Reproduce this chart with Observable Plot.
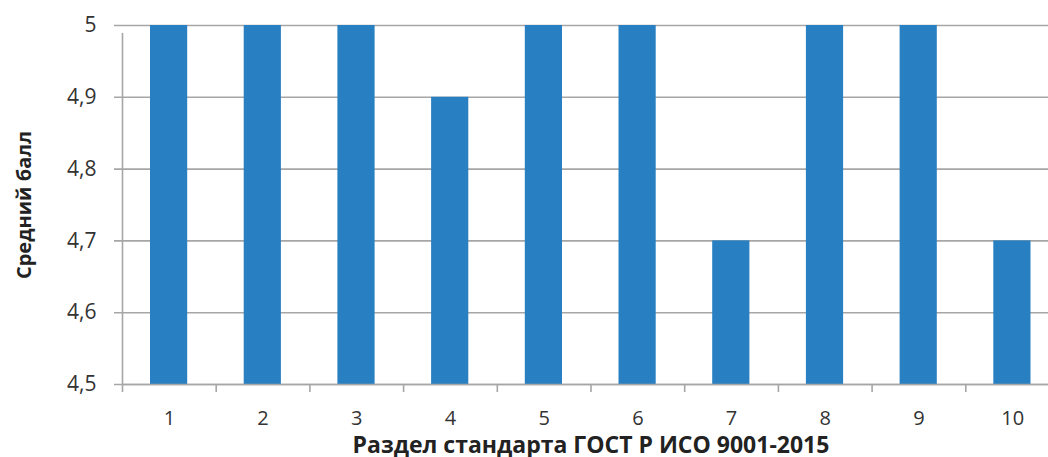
<!DOCTYPE html>
<html>
<head>
<meta charset="utf-8">
<script src="https://cdn.jsdelivr.net/npm/d3@7"></script>
<script src="https://cdn.jsdelivr.net/npm/@observablehq/plot@0.6"></script>
<style>
  html, body { margin: 0; padding: 0; background: #fff; }
  #chart svg { display: block; }
</style>
</head>
<body>
<div id="chart"></div>
<script>
const categories = [1, 2, 3, 4, 5, 6, 7, 8, 9, 10];
const values = [5, 5, 5, 4.9, 5, 5, 4.7, 5, 5, 4.7];
const yTicks = [4.5, 4.6, 4.7, 4.8, 4.9, 5];
const yMin = 4.5, yMax = 5;
const yTitle = "Средний балл";
const xTitle = "Раздел стандарта ГОСТ Р ИСО 9001-2015";

const data = categories.map((c, i) => ({cat: c, val: values[i]}));
const boundaries = [categories[0] - 0.5, ...categories.map(c => c + 0.5)];
const fmt = d => String(d).replace(".", ",");
const font = "'Open Sans', sans-serif";

const chart = Plot.plot({
  width: 1048,
  height: 457,
  marginLeft: 122,
  marginTop: 25,
  marginBottom: 73,
  marginRight: -11,
  style: {fontFamily: font, fontSize: "21px", color: "#333", background: "#fff"},
  x: {domain: [boundaries[0], boundaries[boundaries.length - 1]]},
  y: {domain: [yMin, yMax]},
  marks: [
    Plot.ruleY(yTicks, {y: d => d, x1: boundaries[0], x2: boundaries[boundaries.length - 1], stroke: "#a6a6a6", strokeWidth: 1.6, insetLeft: -8}),
    Plot.rectY(data, {x1: d => d.cat - 0.5, x2: d => d.cat + 0.5, y1: yMin, y2: "val", fill: "#2880c3", insetLeft: 28, insetRight: 28.5}),
    Plot.ruleX([boundaries[0]], {x: d => d, y1: yMin, y2: yMax, stroke: "#a6a6a6", strokeWidth: 1.6, insetBottom: -8}),
    Plot.ruleY([yMin], {y: d => d, stroke: "#a6a6a6", strokeWidth: 1.6}),
    Plot.ruleX(boundaries, {x: d => d, y1: yMin, y2: yMin, insetBottom: -8, stroke: "#a6a6a6", strokeWidth: 1.6}),
    Plot.axisX(categories, {tickSize: 0, tickPadding: 26, tickFormat: d => String(d), fill: "#333", fontSize: 20, label: null}),
    Plot.axisY(yTicks, {tickSize: 0, tickPadding: 26, tickFormat: fmt, fill: "#333", fontSize: 21, label: null}),
    Plot.text([yTitle], {frameAnchor: "left", textAnchor: "middle", lineAnchor: "middle", rotate: -90, dx: -98, fontWeight: "bold", fontSize: 20, fill: "#222"}),
    Plot.text([xTitle], {frameAnchor: "bottom", textAnchor: "middle", lineAnchor: "middle", dy: 61, fontWeight: "bold", fontSize: 23, fill: "#222"})
  ]
});
document.getElementById("chart").appendChild(chart);
</script>
</body>
</html>
